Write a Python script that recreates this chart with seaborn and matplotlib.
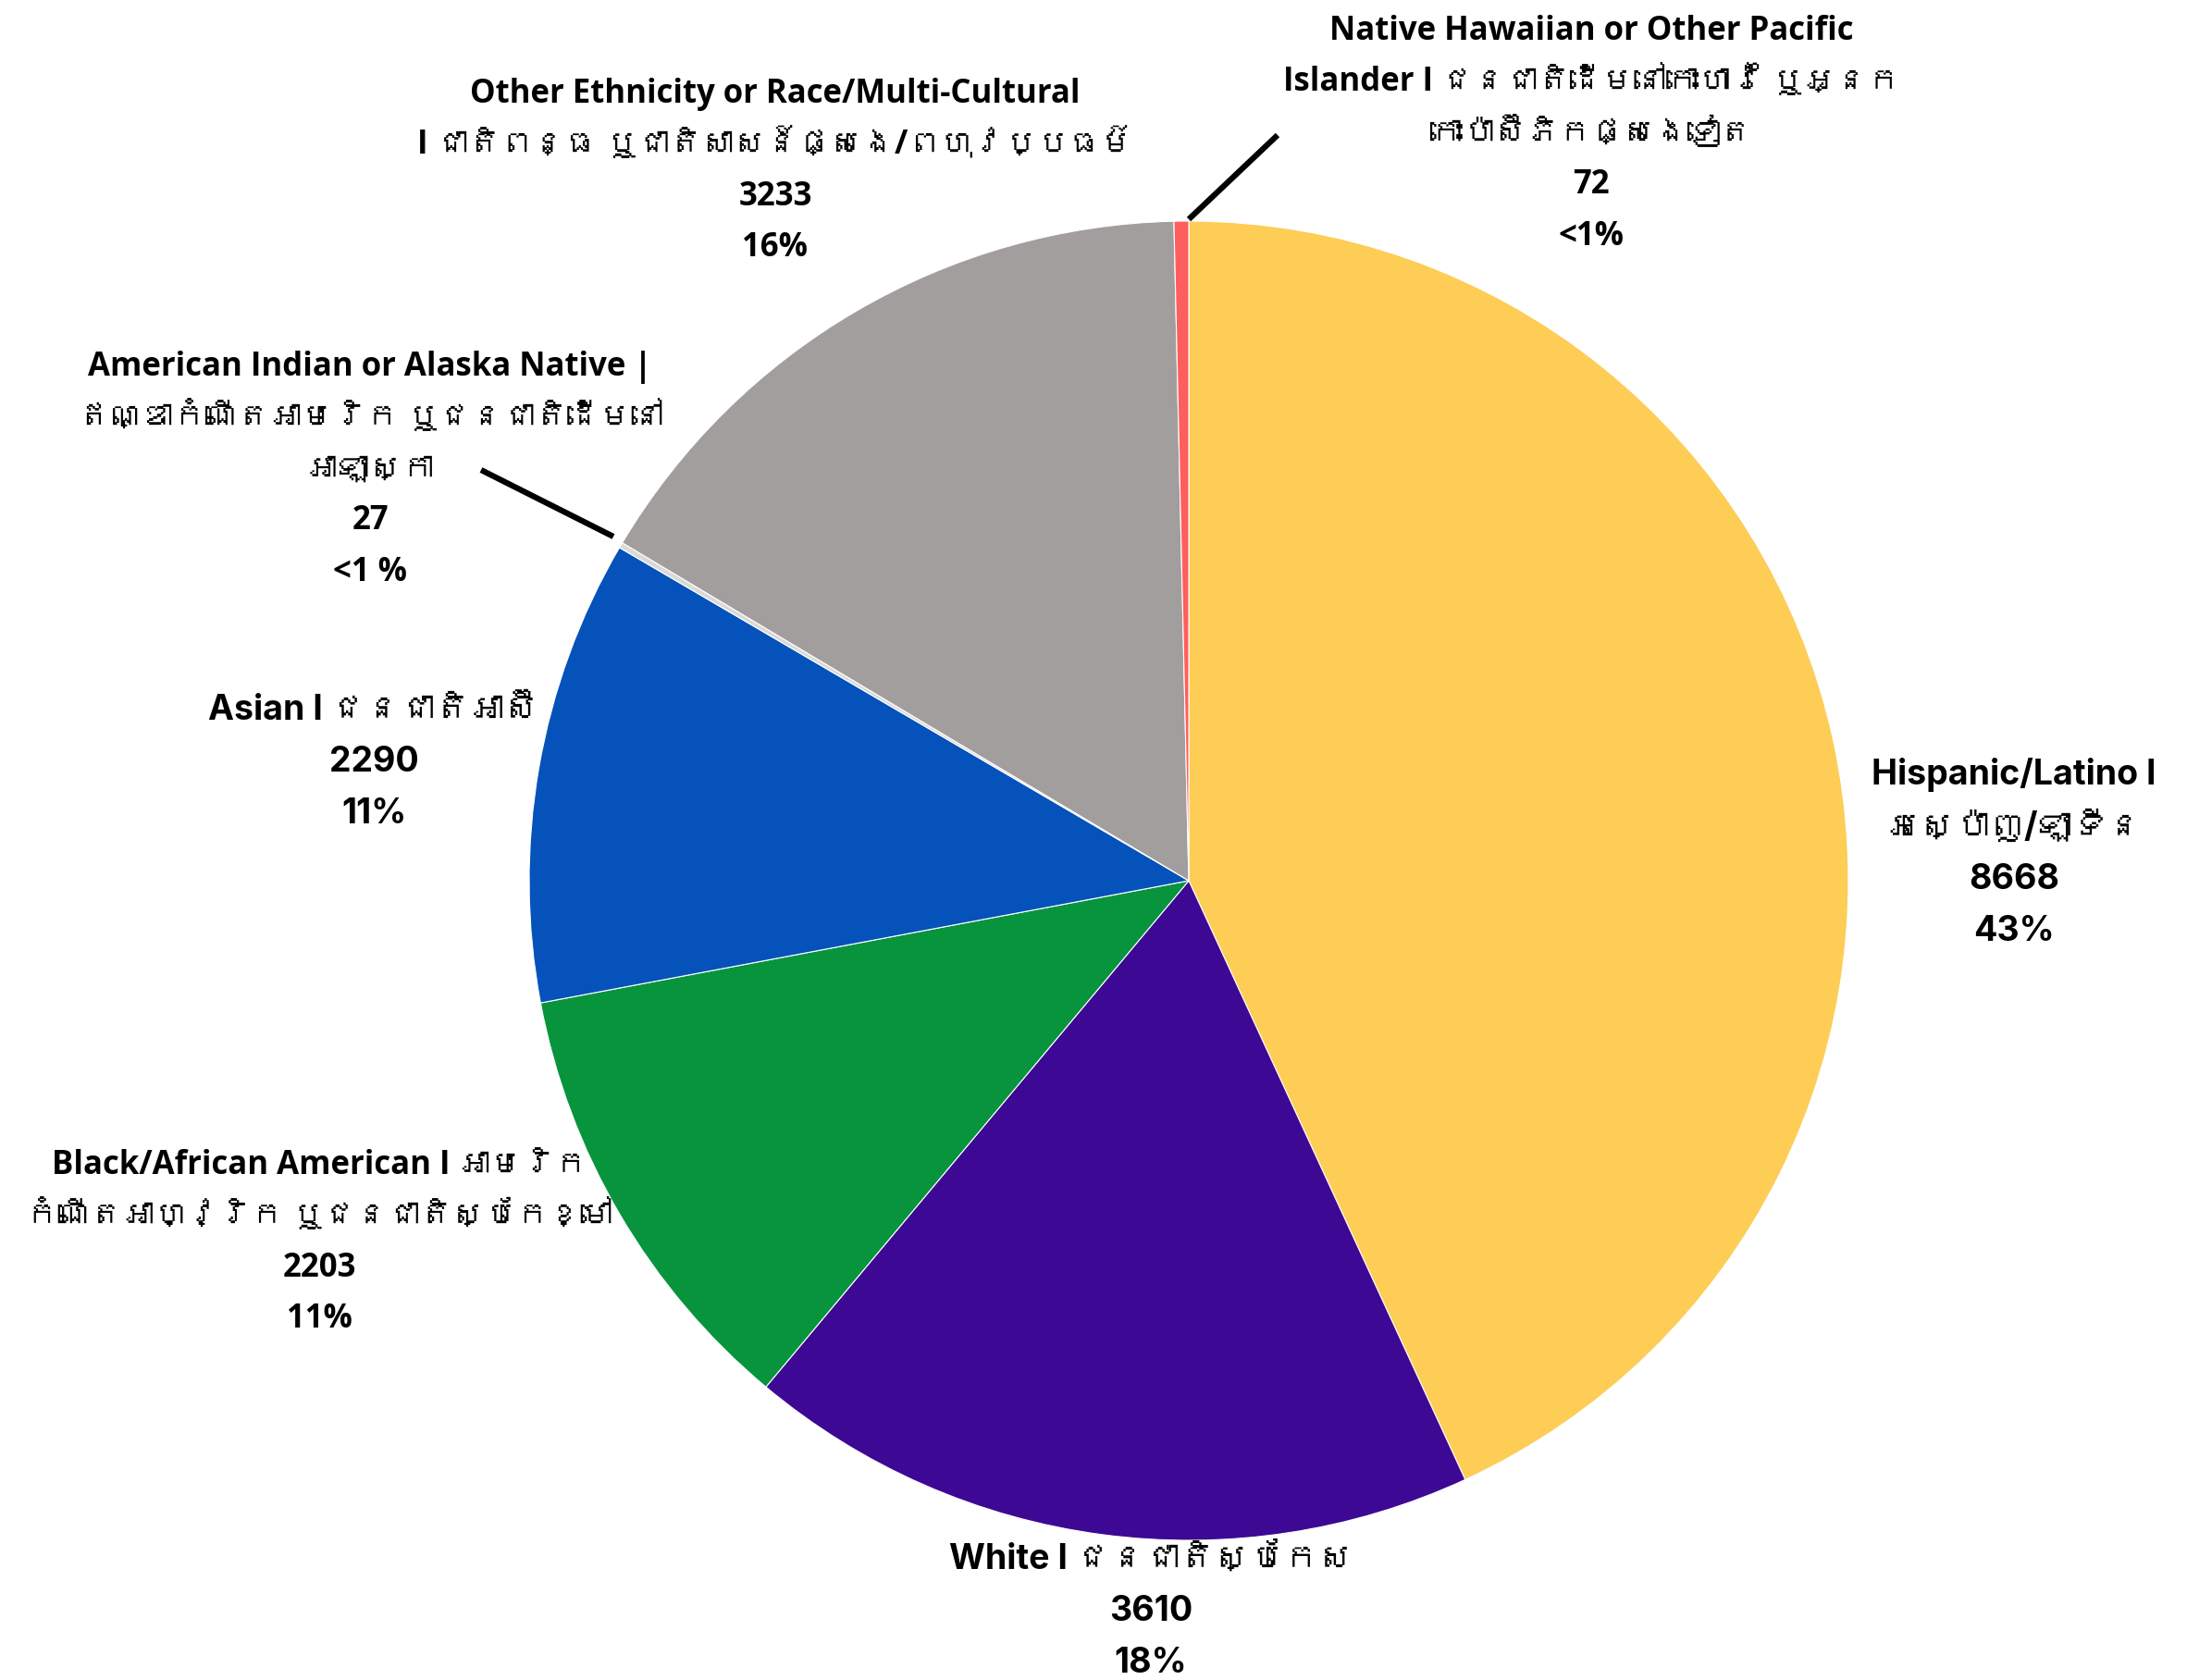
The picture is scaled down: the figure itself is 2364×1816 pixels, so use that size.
import matplotlib
matplotlib.use("Agg")
import matplotlib.pyplot as plt
from matplotlib import font_manager
from matplotlib.ft2font import FT2Font
import seaborn as sns

sns.set_theme(style="white")

# find any installed family that covers Khmer script
khmer_fams = []
for fe in font_manager.fontManager.ttflist:
    try:
        cmap = FT2Font(fe.fname).get_charmap()
    except Exception:
        continue
    if 0x1780 in cmap and 0x1794 in cmap and fe.name not in khmer_fams:
        khmer_fams.append(fe.name)

WIDE = ['Inter'] + khmer_fams + ['DejaVu Sans']
NARROW = ['Open Sans'] + khmer_fams + ['DejaVu Sans']
plt.rcParams['font.family'] = WIDE

categories = [
    "Hispanic/Latino I\nអេស្ប៉ាញ/ឡាទីន",
    "White I ជនជាតិស្បែកស",
    "Black/African American I អាមេរិក\nកំណើតអាហ្វ្រិក ឬជនជាតិស្បែកខ្មៅ",
    "Asian I ជនជាតិអាស៊ី",
    "American Indian or Alaska Native |\nឥណ្ឌាកំណើតអាមេរិក ឬជនជាតិដើមនៅ\nអាឡាស្កា",
    "Other Ethnicity or Race/Multi-Cultural\nI ជាតិពន្ធ ឬជាតិសាសន៍ផ្សេង/ពហុវប្បធម៌",
    "Native Hawaiian or Other Pacific\nIslander I ជនជាតិដើមនៅកោះហាវ៉ៃ ឬអ្នក\nកោះប៉ាស៊ីភិកផ្សេងទៀត",
]
counts = [8668, 3610, 2203, 2290, 27, 3233, 72]
pct_labels = ["43%", "18%", "11%", "11%", "<1 %", "16%", "<1%"]
colors = ["#FDCD55", "#3D0894", "#07943D", "#0452BA", "#D9D9D9", "#A39E9E", "#FF5E5E"]

W, H = 2364, 1816
fig = plt.figure(figsize=(W / 100, H / 100), dpi=100)
ax = fig.add_axes([0, 0, 1, 1])

cx, cy, r = 1285, H - 952, 713
ax.pie(counts, colors=colors, startangle=90, counterclock=False,
       center=(cx, cy), radius=r, frame=True,
       wedgeprops=dict(linewidth=0.8, edgecolor="white"))
ax.set_xlim(0, W)
ax.set_ylim(0, H)
ax.axis("off")

# label anchors (text block centres, pixel coords from top) and styles
label_pos = [(2177, 922), (1244, 1742), (345, 1343), (404, 824),
             (400, 508), (838, 185), (1720, 145)]
narrow = [False, False, True, False, True, True, True]

for cat, n, p, (x, y), nar in zip(categories, counts, pct_labels, label_pos, narrow):
    txt = f"{cat}\n{n}\n{p}"
    if nar:
        ax.text(x, H - y, txt, ha="center", va="center", fontsize=25,
                fontweight="bold", family=NARROW, linespacing=1.72, color="black")
    else:
        ax.text(x, H - y, txt, ha="center", va="center", fontsize=27,
                fontweight="bold", family=WIDE, linespacing=1.72, color="black")

# leader lines
ax.plot([1285, 1381], [H - 237, H - 146], color="black", lw=4.5, solid_capstyle="butt")
ax.plot([663, 520], [H - 580, H - 508], color="black", lw=4.5, solid_capstyle="butt")

fig.savefig("out.png", dpi=100, facecolor="white")
